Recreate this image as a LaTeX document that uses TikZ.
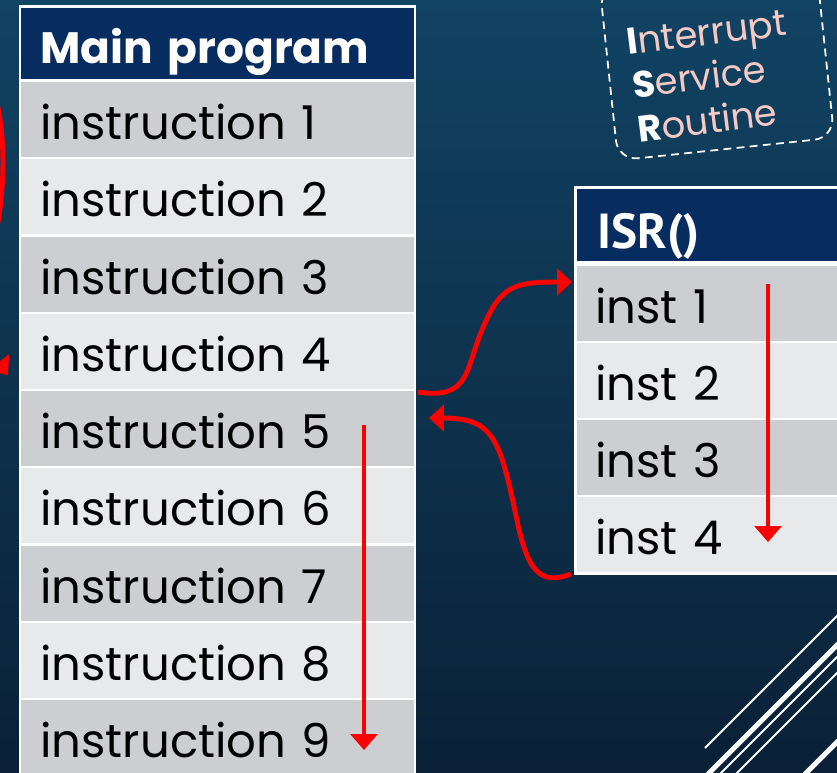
\documentclass[tikz,border=0pt]{standalone}
\usepackage{fontspec}
\setmainfont{Poppins}
\newfontfamily\headfont{PT Sans}
\usetikzlibrary{arrows.meta}
\definecolor{bgtop}{RGB}{17,67,99}
\definecolor{bgbot}{RGB}{10,33,55}
\definecolor{navy}{RGB}{7,44,96}
\definecolor{rowdark}{RGB}{205,206,210}
\definecolor{rowlight}{RGB}{232,233,235}
\definecolor{pinktext}{RGB}{245,201,196}
\tikzset{cell/.style = {shape=rectangle, anchor=north west, inner xsep=0.38cm, inner ysep=0pt, text height=1.14cm, text depth=0.36cm, text width=7.1cm, align=left, font=\fontsize{26.5}{26.5}\selectfont}}
\tikzset{isrcell/.style = {cell, inner xsep=0.36cm, text width=5.6cm}}
\tikzset{head/.style = {cell, fill=navy, text=white, text height=1.1cm, text depth=0.32cm, font=\fontsize{25}{25}\selectfont\bfseries}}
\tikzset{flow/.style = {red, line width=2.8pt, -{Triangle[width=15pt,length=9pt]}}}
\tikzset{deco/.style = {white, line width=1.1pt}}

\begin{document}
\begin{tikzpicture}[x=0.02cm,y=-0.02cm]
\useasboundingbox (0,0) rectangle (837,772);
\clip (0,0) rectangle (837,772);
\shade[top color=bgtop, bottom color=bgbot] (0,0) rectangle (837,772);

% corner lines
\draw[deco] (705,748) -- (860,593);
\draw[deco, line width=2.8pt] (700,782) -- (860,622);
\draw[deco] (712,782) -- (860,634);
\draw[deco] (728,782) -- (860,650);
\draw[deco, line width=2.8pt] (797,782) -- (860,719);

% main program
\fill[white] (19,5) rectangle (416,790);
\node[head] (mhead) at (21,8) {Main program};
\node[cell, fill=rowdark] (m1) at (21,82) {instruction 1};
\node[cell, fill=rowlight] (m2) at (21,159) {instruction 2};
\node[cell, fill=rowdark] (m3) at (21,237) {instruction 3};
\node[cell, fill=rowlight] (m4) at (21,314) {instruction 4};
\node[cell, fill=rowdark] (m5) at (21,391) {instruction 5};
\node[cell, fill=rowlight] (m6) at (21,468) {instruction 6};
\node[cell, fill=rowdark] (m7) at (21,546) {instruction 7};
\node[cell, fill=rowlight] (m8) at (21,623) {instruction 8};
\node[cell, fill=rowdark] (m9) at (21,700) {instruction 9};

% isr
\fill[white] (574,186) rectangle (860,575);
\node[head, inner xsep=0.4cm, text width=5.6cm, text height=1.18cm, text depth=0.26cm, font=\fontsize{28}{28}\headfont\bfseries] (ihead) at (577,189) {ISR()};
\node[isrcell, fill=rowdark] (i1) at (577,266) {inst 1};
\node[isrcell, fill=rowlight] (i2) at (577,343) {inst 2};
\node[isrcell, fill=rowdark] (i3) at (577,420) {inst 3};
\node[isrcell, fill=rowlight] (i4) at (577,497) {inst 4};

% label
\node[draw=white, dashed, dash pattern=on 4.5pt off 3pt, line width=1pt, rounded corners=0.4cm, rotate=6, minimum width=4.35cm, minimum height=3.5cm] (isrbox) at (717,62) {};
\node[rotate=7, align=left, text=pinktext, font=\fontsize{21}{25}\selectfont] (isrtext) at (712,76) {\textcolor{white}{\bfseries I}nterrupt\\\textcolor{white}{\bfseries S}ervice\\\textcolor{white}{\bfseries R}outine};

% arrows
\coordinate (ms) at (364,425);
\coordinate (me) at (364,750);
\coordinate (is) at (768,284);
\coordinate (ie) at (768,542);
\coordinate (c1s) at (418,392);
\coordinate (c1e) at (572,282);
\coordinate (c2s) at (571,574);
\coordinate (c2e) at (429,418);
\draw[flow] (ms) -- (me);
\draw[flow] (is) -- (ie);
\draw[flow, -{Triangle[width=15pt,length=8.5pt]}] (c1s) .. controls (470,400) and (465,370) .. (482,330) .. controls (500,285) and (515,282) .. (c1e);
\draw[flow, -{Triangle[width=15pt,length=8.5pt]}] (c2s) .. controls (540,586) and (528,570) .. (518,525) .. controls (500,440) and (495,418) .. (c2e);
\draw[flow] (-30,40) .. controls (8,90) and (10,180) .. (-8,250) .. controls (-25,310) and (-15,345) .. (8,375);
\end{tikzpicture}
\end{document}
